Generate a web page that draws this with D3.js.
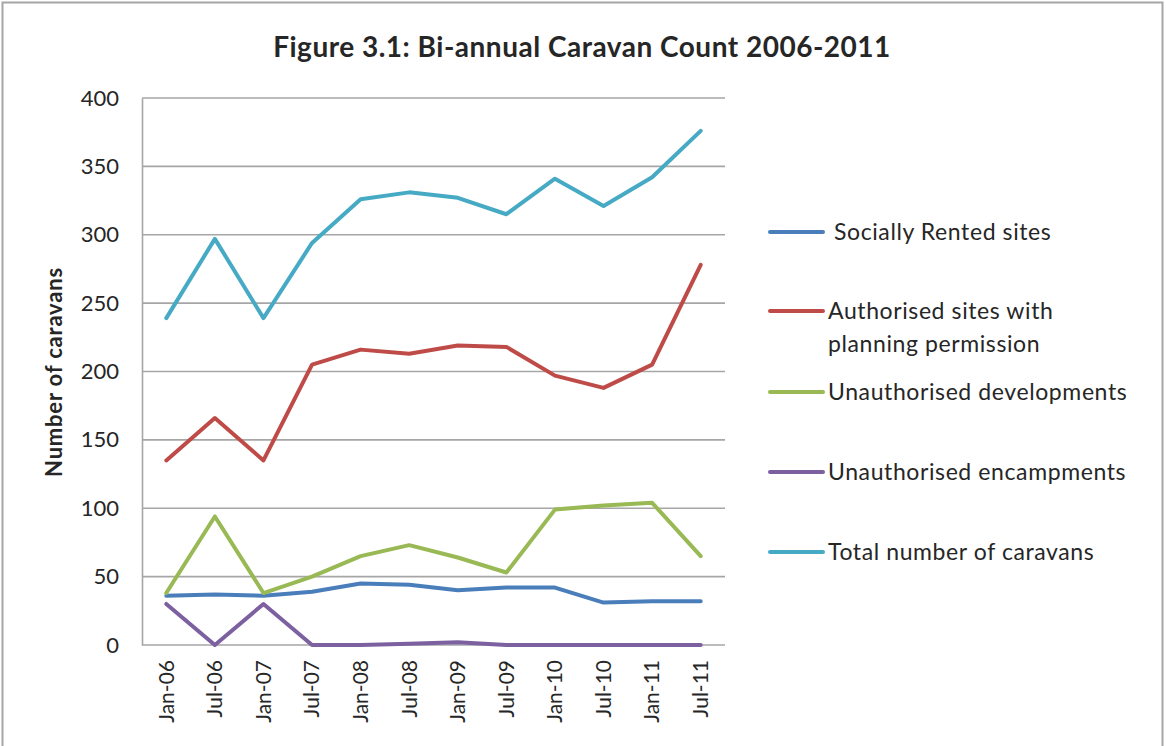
<!DOCTYPE html>
<html>
<head>
<meta charset="utf-8">
<script src="https://cdn.jsdelivr.net/npm/d3@7"></script>
<style>
  body { margin: 0; background: #fff; }
  text { font-family: Lato, "Open Sans", sans-serif; fill: #262626; }
</style>
</head>
<body>
<div id="chart"></div>
<script>
// Caravan count line chart

// Categories (x axis)
const periods = ["Jan-06", "Jul-06", "Jan-07", "Jul-07", "Jan-08", "Jul-08",
                 "Jan-09", "Jul-09", "Jan-10", "Jul-10", "Jan-11", "Jul-11"];

// Series values
const sociallyRented = [36, 37, 36, 39, 45, 44, 40, 42, 42, 31, 32, 32];
const authorised     = [135, 166, 135, 205, 216, 213, 219, 218, 197, 188, 205, 278];
const unauthDev      = [38, 94, 38, 50, 65, 73, 64, 53, 99, 102, 104, 65];
const unauthEnc      = [30, 0, 30, 0, 0, 1, 2, 0, 0, 0, 0, 0];
const totalCaravans  = [239, 297, 239, 294, 326, 331, 327, 315, 341, 321, 342, 376];

const seriesNames = ["Socially Rented sites", "Authorised sites with planning permission",
                     "Unauthorised developments", "Unauthorised encampments", "Total number of caravans"];
const yTicks = [0, 50, 100, 150, 200, 250, 300, 350, 400];

const colors = ["#4a7ebb", "#be4b48", "#98b954", "#7d60a0", "#46aac5"];
const seriesValues = [sociallyRented, authorised, unauthDev, unauthEnc, totalCaravans];

const W = 1166, H = 746;
const margin = {top: 98, right: 441, bottom: 101, left: 142},
      width = W - margin.left - margin.right,
      height = H - margin.top - margin.bottom;

const svg = d3.select("#chart").append("svg")
    .attr("width", W)
    .attr("height", H);

// outer frame
svg.append("rect")
  .attr("x", 2.5).attr("y", 2.5)
  .attr("width", 1160).attr("height", 745)
  .attr("fill", "none")
  .attr("stroke", "#a6a6a6")
  .attr("stroke-width", 2);

// title
svg.append("text")
  .attr("x", 582)
  .attr("y", 57)
  .attr("text-anchor", "middle")
  .style("font-size", "28px")
  .style("font-weight", "bold")
  .style("letter-spacing", "0.5px")
  .text("Figure 3.1: Bi-annual  Caravan Count 2006-2011");

const g = svg.append("g")
    .attr("transform", `translate(${margin.left},${margin.top})`);

const x = d3.scaleBand()
  .domain(periods)
  .range([0, width]);

const y = d3.scaleLinear()
  .domain([0, 400])
  .range([height, 0]);

// gridlines
g.selectAll(".grid")
  .data(yTicks)
  .enter()
  .append("line")
    .attr("x1", 0)
    .attr("x2", width)
    .attr("y1", d => y(d))
    .attr("y2", d => y(d))
    .attr("stroke", "#a6a6a6")
    .attr("stroke-width", 1.6);

// y axis
const yAxis = g.append("g")
  .call(d3.axisLeft(y).tickValues(yTicks).tickSize(0).tickPadding(23));
yAxis.select(".domain").attr("stroke", "#a6a6a6").attr("stroke-width", 1.6);
yAxis.selectAll("text")
  .style("font-size", "22px")
  .style("font-family", "Lato, sans-serif")
  .attr("fill", "#262626");

// x axis
const xAxis = g.append("g")
  .attr("transform", `translate(0,${height})`)
  .call(d3.axisBottom(x).tickSize(0).tickPadding(0));
xAxis.select(".domain").remove();
xAxis.selectAll("text")
  .style("font-size", "21px")
  .style("font-family", "Lato, sans-serif")
  .attr("fill", "#262626")
  .attr("text-anchor", "end")
  .attr("transform", "rotate(-90)")
  .attr("x", -15)
  .attr("y", 0)
  .attr("dy", "0.35em");

// y axis title
svg.append("text")
  .attr("transform", "translate(62,372) rotate(-90)")
  .attr("text-anchor", "middle")
  .style("font-size", "22px")
  .style("font-weight", "bold")
  .style("letter-spacing", "0.8px")
  .text("Number of caravans");

// lines
const line = d3.line()
  .x((d, i) => x(periods[i]) + x.bandwidth() / 2)
  .y(d => y(d));

g.selectAll(".series")
  .data(seriesValues)
  .enter()
  .append("path")
    .attr("d", d => line(d))
    .attr("fill", "none")
    .attr("stroke", (d, i) => colors[i])
    .attr("stroke-width", 4)
    .attr("stroke-linejoin", "round")
    .attr("stroke-linecap", "round");

// legend
const legendY = [232, 311, 392, 472, 552];
const legend = svg.selectAll(".legend")
  .data(seriesNames)
  .enter()
  .append("g")
    .attr("transform", (d, i) => `translate(770,${legendY[i]})`);

legend.append("line")
  .attr("x1", 0).attr("x2", 53)
  .attr("stroke", (d, i) => colors[i])
  .attr("stroke-width", 4)
  .attr("stroke-linecap", "round");

legend.append("text")
  .attr("x", (d, i) => i === 0 ? 64 : 58)
  .attr("y", 0)
  .attr("dy", "0.35em")
  .style("font-size", "23px")
  .style("letter-spacing", "0.6px")
  .each(function(d) {
    const t = d3.select(this);
    if (d.startsWith("Authorised")) {
      t.append("tspan").attr("x", 58).text("Authorised sites with");
      t.append("tspan").attr("x", 58).attr("dy", "1.45em").text("planning permission");
    } else {
      t.text(d);
    }
  });
</script>
</body>
</html>
